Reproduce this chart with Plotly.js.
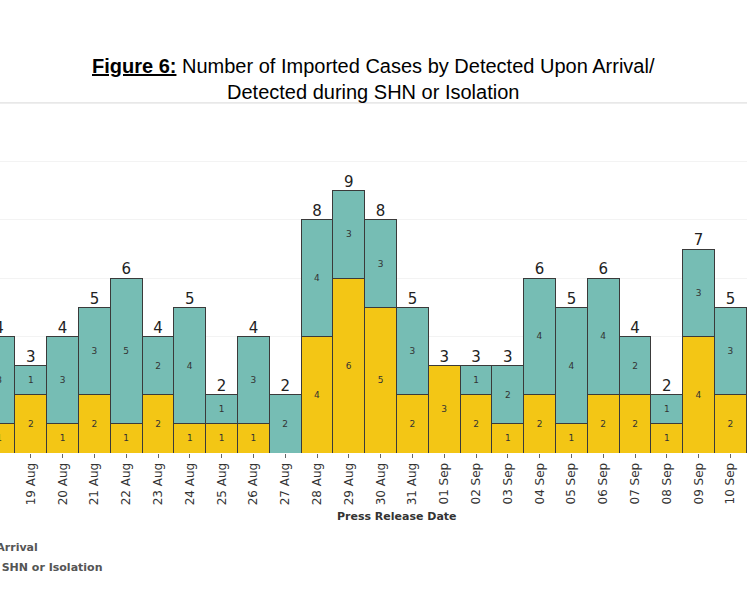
<!DOCTYPE html>
<html><head><meta charset="utf-8">
<script src="https://cdn.plot.ly/plotly-3.0.1.min.js"></script>
<style>body{margin:0;background:#fff}#c{width:747px;height:598px}</style>
</head><body><div id="c"></div>
<script>
const dates = ["18 Aug","19 Aug","20 Aug","21 Aug","22 Aug","23 Aug","24 Aug","25 Aug","26 Aug","27 Aug","28 Aug","29 Aug","30 Aug","31 Aug","01 Sep","02 Sep","03 Sep","04 Sep","05 Sep","06 Sep","07 Sep","08 Sep","09 Sep","10 Sep"];
const arrival = [1,2,1,2,1,2,1,1,1,0,4,6,5,2,3,2,1,2,1,2,2,1,4,2];
const shn = [3,1,3,3,5,2,4,1,3,2,4,3,3,3,0,1,2,4,4,4,2,1,3,3];
const totals = arrival.map((v,i)=>v+shn[i]);
const lab = a => a.map(v => v>0 ? String(v) : "");
const line = {color:"#3a3a3a", width:1};
const data = [
 {type:"bar", x:dates, y:arrival, name:"Detected Upon Arrival", marker:{color:"#F3C615", line:line},
  text:lab(arrival), textposition:"inside", insidetextanchor:"middle", textfont:{size:9,color:"#333",family:"DejaVu Sans"}, constraintext:"none"},
 {type:"bar", x:dates, y:shn, name:"Detected during SHN or Isolation", marker:{color:"#76BDB4", line:line},
  text:lab(shn), textposition:"inside", insidetextanchor:"middle", textfont:{size:9,color:"#333",family:"DejaVu Sans"}, constraintext:"none"},
 {type:"scatter", mode:"text", x:dates, y:totals, text:totals.map(String), textposition:"top center",
  textfont:{size:15,color:"#222",family:"DejaVu Sans"}, showlegend:false, hoverinfo:"skip"}
];
const s = 747/31.8;
const layout = {
 width:747, height:598, margin:{l:0,r:0,t:147,b:145}, barmode:"stack", bargap:0,
 showlegend:false, plot_bgcolor:"#fff", paper_bgcolor:"#fff",
 xaxis:{type:"category", range:[0.031, 0.031+s], tickangle:-90, ticks:"outside", ticklen:4, tickcolor:"#666",
   tickfont:{size:12,color:"#333",family:"DejaVu Sans"}, showgrid:false, zeroline:false, showline:false},
 yaxis:{range:[0,10.5], showticklabels:false, dtick:2, gridcolor:"#f3f3f3", zeroline:false},
 shapes:[{type:"line", xref:"paper", yref:"paper", x0:0, x1:1, y0:1.144, y1:1.144, line:{color:"#d8d8d8", width:1}}],
 annotations:[
  {xref:"paper", yref:"paper", x:0.5, y:1.222, xanchor:"center", yanchor:"middle", showarrow:false, align:"center",
   text:"<b><u>Figure 6:</u></b> Number of Imported Cases by Detected Upon Arrival/<br>Detected during SHN or Isolation",
   font:{family:"Liberation Sans, Arial", size:20, color:"#000"}},
  {xref:"paper", yref:"paper", x:397/747, y:-0.206, xanchor:"center", yanchor:"middle", showarrow:false,
   text:"<b>Press Release Date</b>", font:{family:"DejaVu Sans", size:11, color:"#333"}},
  {xref:"paper", yref:"paper", x:40/747, y:-0.31, xanchor:"right", yanchor:"middle", showarrow:false,
   text:"<b>Detected Upon Arrival</b>", font:{family:"DejaVu Sans", size:11, color:"#555"}},
  {xref:"paper", yref:"paper", x:104/747, y:-0.373, xanchor:"right", yanchor:"middle", showarrow:false,
   text:"<b>Detected during SHN or Isolation</b>", font:{family:"DejaVu Sans", size:11, color:"#555"}}
 ]
};
Plotly.newPlot("c", data, layout, {displayModeBar:false, staticPlot:true});
</script></body></html>
